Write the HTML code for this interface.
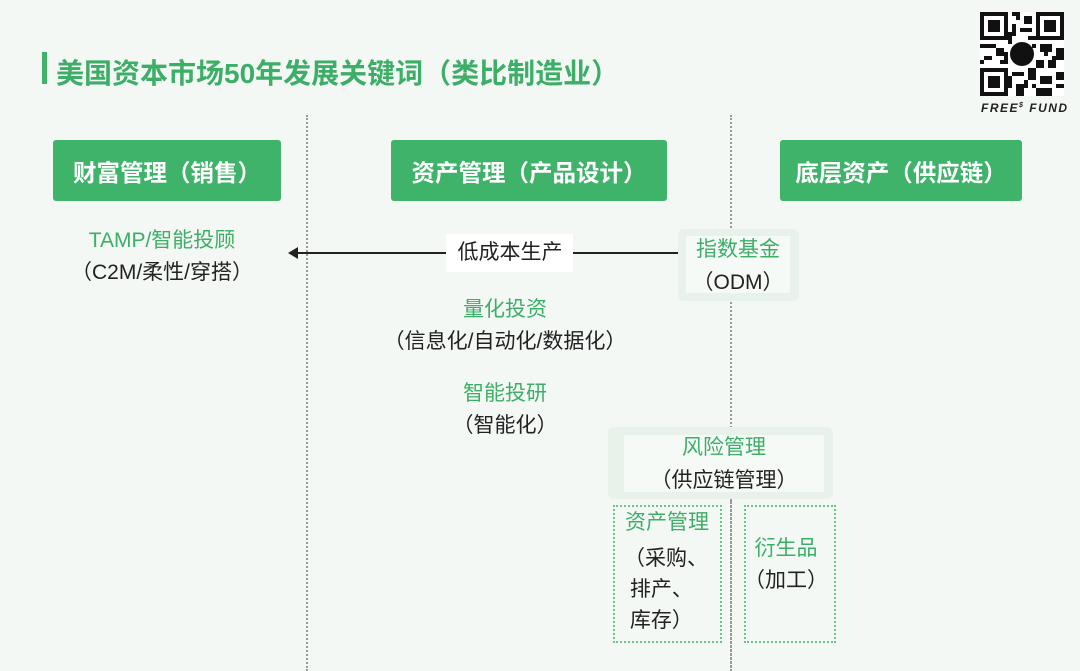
<!DOCTYPE html>
<html><head><meta charset="utf-8"><style>
body{margin:0;width:1080px;height:671px;background:#f4f8f5;position:relative;overflow:hidden;font-family:"Liberation Sans","Noto Sans CJK SC",sans-serif;}
.a{position:absolute}
.t{position:absolute;white-space:nowrap;font-size:21px;transform:translateX(-50%);line-height:1}
.g{color:#3dae67}.k{color:#222}
.hb{position:absolute;background:#3fb36a;color:#fff;font-weight:bold;font-size:23.5px;display:flex;align-items:center;justify-content:center;border-radius:3px}
.vl{position:absolute;top:115px;height:556px;border-left:2px dotted #999}
</style></head><body>
<div class="a" style="left:42px;top:52px;width:5px;height:32px;background:#3fb36a"></div>
<div class="a g" style="left:56px;top:52px;font-size:28px;font-weight:bold;white-space:nowrap">美国资本市场50年发展关键词（类比制造业）</div>
<svg class="a" style="left:980px;top:12px" width="84" height="84" viewBox="0 0 21 21">
<rect width="21" height="21" fill="#fff"/>
<g fill="#111">
<rect x="0" y="0" width="7" height="7"/><rect x="14" y="0" width="7" height="7"/><rect x="0" y="14" width="7" height="7"/>
</g>
<g fill="#fff"><rect x="1" y="1" width="5" height="5"/><rect x="15" y="1" width="5" height="5"/><rect x="1" y="15" width="5" height="5"/></g>
<g fill="#111"><rect x="2" y="2" width="3" height="3"/><rect x="16" y="2" width="3" height="3"/><rect x="2" y="16" width="3" height="3"/>
<rect x="8" y="0" width="2" height="1"/><rect x="11" y="1" width="2" height="2"/><rect x="8" y="3" width="1" height="3"/><rect x="10" y="4" width="3" height="1"/>
<rect x="0" y="8" width="3" height="1"/><rect x="4" y="9" width="2" height="2"/><rect x="1" y="11" width="2" height="1"/><rect x="15" y="8" width="3" height="2"/>
<rect x="19" y="9" width="2" height="3"/><rect x="14" y="12" width="2" height="2"/><rect x="8" y="15" width="3" height="1"/><rect x="12" y="14" width="2" height="3"/>
<rect x="15" y="16" width="3" height="2"/><rect x="19" y="15" width="2" height="2"/><rect x="9" y="18" width="2" height="3"/><rect x="14" y="19" width="4" height="2"/>
<rect x="7" y="7" width="1" height="1"/><rect x="5" y="12" width="2" height="1"/><rect x="17" y="12" width="2" height="2"/><rect x="12" y="6" width="2" height="1"/>
<rect x="9" y="1" width="1" height="1"/><rect x="7" y="5" width="1" height="2"/><rect x="3" y="8" width="1" height="1"/><rect x="6" y="10" width="1" height="2"/>
<rect x="0" y="12" width="1" height="1"/><rect x="16" y="10" width="1" height="1"/><rect x="18" y="11" width="1" height="1"/><rect x="11" y="17" width="1" height="2"/>
<rect x="13" y="18" width="1" height="1"/><rect x="19" y="18" width="2" height="1"/><rect x="7" y="16" width="1" height="3"/><rect x="13" y="8" width="1" height="1"/></g>
<circle cx="10.5" cy="10.5" r="3" fill="#111"/>
</svg>
<div class="a" style="left:981px;top:101px;font-size:12px;font-weight:bold;font-style:italic;letter-spacing:1.5px;color:#222">FREE<sup style="font-size:7px">$</sup> FUND</div>
<div class="vl" style="left:306px"></div>
<div class="vl" style="left:730px"></div>
<div class="hb" style="left:53px;top:140px;width:228px;height:61px">财富管理（销售）</div>
<div class="hb" style="left:391px;top:140px;width:276px;height:61px">资产管理（产品设计）</div>
<div class="hb" style="left:780px;top:140px;width:242px;height:61px">底层资产（供应链）</div>
<div class="t g" style="left:162px;top:230px">TAMP/智能投顾</div>
<div class="t k" style="left:162px;top:262px">（C2M/柔性/穿搭）</div>
<div class="a" style="left:296px;top:252px;width:384px;height:2px;background:#222"></div>
<div class="a" style="left:288px;top:247px;width:0;height:0;border-top:6px solid transparent;border-bottom:6px solid transparent;border-right:10px solid #222"></div>
<div class="a" style="left:446px;top:234px;width:127px;height:38px;background:#fff"></div>
<div class="t k" style="left:510px;top:242px">低成本生产</div>
<div class="a" style="left:678px;top:229px;width:121px;height:72px;background:#e8f2eb;border-radius:6px"></div>
<div class="a" style="left:686px;top:236px;width:104px;height:57px;background:#f6faf7"></div>
<div class="t g" style="left:738px;top:239px">指数基金</div>
<div class="t k" style="left:738px;top:272px">（ODM）</div>
<div class="t g" style="left:505px;top:299px">量化投资</div>
<div class="t k" style="left:505px;top:331px">（信息化/自动化/数据化）</div>
<div class="t g" style="left:505px;top:383px">智能投研</div>
<div class="t k" style="left:505px;top:415px">（智能化）</div>
<div class="a" style="left:608px;top:427px;width:225px;height:72px;background:#e8f2eb;border-radius:6px"></div>
<div class="a" style="left:624px;top:435px;width:200px;height:57px;background:#f6faf7"></div>
<div class="vl" style="left:730px;top:500px;height:171px"></div>
<div class="t g" style="left:724px;top:437px">风险管理</div>
<div class="t k" style="left:724px;top:470px">（供应链管理）</div>
<div class="a" style="left:613px;top:505px;width:105px;height:134px;border:2px dotted #6cc48c"></div>
<div class="a" style="left:744px;top:505px;width:88px;height:134px;border:2px dotted #6cc48c"></div>
<div class="t g" style="left:667px;top:512px">资产管理</div>
<div class="a k" style="left:624px;top:543px;font-size:21px;line-height:31px">（采购、<br>&nbsp;排产、<br>&nbsp;库存）</div>
<div class="t g" style="left:786px;top:538px">衍生品</div>
<div class="t k" style="left:786px;top:570px">（加工）</div>
</body></html>
